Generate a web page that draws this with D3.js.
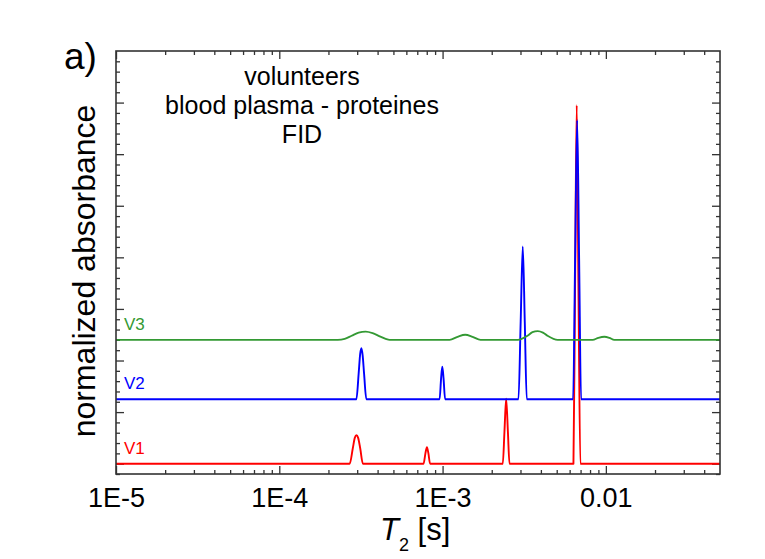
<!DOCTYPE html>
<html>
<head>
<meta charset="utf-8">
<script src="https://cdn.jsdelivr.net/npm/d3@7"></script>
<style>
  body { margin: 0; background: #fff; }
  svg text { font-family: 'Liberation Sans', Arial, sans-serif; }
</style>
</head>
<body>
<svg id="chart" width="765" height="559"></svg>
<script>
// T2 [s] vs normalized absorbance
const v1 = [
  [1e-5, 0], [2.70e-4, 0], [2.82e-4, 0.3], [2.90e-4, 0.5], [2.97e-4, 0.55], [3.04e-4, 0.5], [3.13e-4, 0.3], [3.25e-4, 0],
  [7.65e-4, 0], [7.85e-4, 0.2], [8.02e-4, 0.32], [8.19e-4, 0.2], [8.38e-4, 0],
  [2.337e-3, 0], [2.393e-3, 0.62], [2.451e-3, 1.26], [2.512e-3, 0.62], [2.569e-3, 0],
  [6.33e-3, 0], [6.48e-3, 3.5], [6.63e-3, 6.95], [6.79e-3, 3.5], [6.98e-3, 0],
  [0.05, 0]
];
const v2 = [
  [1e-5, 0], [2.966e-4, 0], [3.063e-4, 0.5], [3.129e-4, 0.88], [3.182e-4, 0.99], [3.24e-4, 0.85], [3.305e-4, 0.5], [3.413e-4, 0],
  [9.59e-4, 0], [9.79e-4, 0.4], [9.96e-4, 0.63], [1.014e-3, 0.4], [1.036e-3, 0],
  [2.916e-3, 0], [3.008e-3, 1.5], [3.098e-3, 2.96], [3.187e-3, 1.5], [3.277e-3, 0],
  [6.30e-3, 0], [6.48e-3, 2.7], [6.67e-3, 5.41], [6.86e-3, 2.7], [7.05e-3, 0],
  [0.05, 0]
];
const v3 = [
  [1e-5, 0], [2.28e-4, 0], [2.515e-4, 0.02], [2.775e-4, 0.08], [3.063e-4, 0.14], [3.381e-4, 0.16], [3.73e-4, 0.13], [4.117e-4, 0.07], [4.48e-4, 0.02], [4.74e-4, 0],
  [1.104e-3, 0], [1.235e-3, 0.06], [1.376e-3, 0.1], [1.526e-3, 0.06], [1.708e-3, 0],
  [2.888e-3, 0], [3.311e-3, 0.08], [3.552e-3, 0.15], [3.827e-3, 0.17], [4.117e-3, 0.14], [4.387e-3, 0.08], [5.072e-3, 0],
  [8.304e-3, 0], [8.998e-3, 0.04], [9.79e-3, 0.06], [1.05e-2, 0.04], [1.127e-2, 0],
  [0.05, 0]
];
const seriesNames = ['V1', 'V2', 'V3'];
const seriesOffsets = [0, 1.25, 2.4];
const seriesColors = ['#ff0000', '#0000ff', '#339933'];
const xTickValues = [1e-5, 1e-4, 1e-3, 1e-2];
const xTickLabels = ['1E-5', '1E-4', '1E-3', '0.01'];
const titleLines = ['volunteers', 'blood plasma - proteines', 'FID'];

const margin = { top: 51, right: 45, bottom: 85, left: 116 },
  width = 765 - margin.left - margin.right,
  height = 559 - margin.top - margin.bottom;

const svg = d3.select('#chart')
  .append('g')
  .attr('transform', `translate(${margin.left}, ${margin.top})`);

const x = d3.scaleLog().domain([1e-5, 0.05]).range([0, width]);
const y = d3.scaleLinear().domain([-0.2, 8]).range([height, 0]);

// minor log ticks 2..9 per decade
const xMinor = [];
for (let e = -5; e <= -2; e++) {
  for (let m = 2; m <= 9; m++) {
    const v = m * Math.pow(10, e);
    if (v < 0.05) xMinor.push(v);
  }
}
const yMajor = d3.range(0, 8, 1);
const yMinor = d3.range(-0.2, 8.0001, 0.2).filter(v => Math.abs(v - Math.round(v)) > 1e-6);

function styleAxis(g) {
  g.selectAll('.domain').remove();
  g.selectAll('.tick line').attr('stroke', '#333').attr('stroke-width', 1.3);
}

// bottom / top
svg.append('g').attr('transform', `translate(0,${height})`)
  .call(d3.axisBottom(x).tickValues(xTickValues).tickSize(-8).tickPadding(14)
    .tickFormat((d, i) => xTickLabels[i]))
  .call(styleAxis)
  .selectAll('text').attr('font-size', '27px').attr('fill', '#000').attr('dy', '0.71em');
svg.append('g').attr('transform', `translate(0,${height})`)
  .call(d3.axisBottom(x).tickValues(xMinor).tickSize(-4).tickFormat(''))
  .call(styleAxis);
svg.append('g')
  .call(d3.axisTop(x).tickValues(xTickValues).tickSize(-8).tickFormat(''))
  .call(styleAxis);
svg.append('g')
  .call(d3.axisTop(x).tickValues(xMinor).tickSize(-4).tickFormat(''))
  .call(styleAxis);

// left / right
svg.append('g')
  .call(d3.axisLeft(y).tickValues(yMajor).tickSize(-8).tickFormat(''))
  .call(styleAxis);
svg.append('g')
  .call(d3.axisLeft(y).tickValues(yMinor).tickSize(-4).tickFormat(''))
  .call(styleAxis);
svg.append('g').attr('transform', `translate(${width},0)`)
  .call(d3.axisRight(y).tickValues(yMajor).tickSize(-8).tickFormat(''))
  .call(styleAxis);
svg.append('g').attr('transform', `translate(${width},0)`)
  .call(d3.axisRight(y).tickValues(yMinor).tickSize(-4).tickFormat(''))
  .call(styleAxis);

// curves
const line = d3.line()
  .x(d => x(d[0]))
  .curve(d3.curveMonotoneX);

[v1, v2, v3].forEach((s, i) => {
  svg.append('path')
    .datum(s)
    .attr('fill', 'none')
    .attr('stroke', seriesColors[i])
    .attr('stroke-width', 1.9)
    .attr('stroke-linejoin', 'round')
    .attr('d', line.y(d => y(d[1] + seriesOffsets[i])));

  svg.append('text')
    .attr('x', 8).attr('y', y(seriesOffsets[i]) - 10)
    .attr('font-size', '17px')
    .attr('fill', seriesColors[i])
    .text(seriesNames[i]);
});

// frame
svg.append('rect')
  .attr('width', width).attr('height', height)
  .attr('fill', 'none')
  .attr('stroke', '#333')
  .attr('stroke-width', 1.6);

// annotation
svg.append('g').selectAll('text')
  .data(titleLines)
  .enter()
  .append('text')
  .attr('x', 302 - margin.left)
  .attr('y', (d, i) => 34 + i * 29)
  .attr('text-anchor', 'middle')
  .attr('font-size', '25px')
  .attr('fill', '#000')
  .text(d => d);

svg.append('text')
  .attr('x', 64 - margin.left).attr('y', 69 - margin.top)
  .attr('font-size', '37px')
  .attr('fill', '#000')
  .text('a)');

// axis titles
svg.append('text')
  .attr('transform', `translate(${95 - margin.left}, ${271 - margin.top}) rotate(-90)`)
  .attr('text-anchor', 'middle')
  .attr('font-size', '32px')
  .attr('fill', '#000')
  .text('normalized absorbance');

const xt = svg.append('text')
  .attr('x', 380 - margin.left).attr('y', 540 - margin.top)
  .attr('font-size', '31px')
  .attr('fill', '#000');
xt.append('tspan').attr('font-style', 'italic').text('T');
xt.append('tspan').attr('font-size', '18px').attr('dy', 11).text('2');
xt.append('tspan').attr('dy', -11).text(' [s]');
</script>
</body>
</html>
